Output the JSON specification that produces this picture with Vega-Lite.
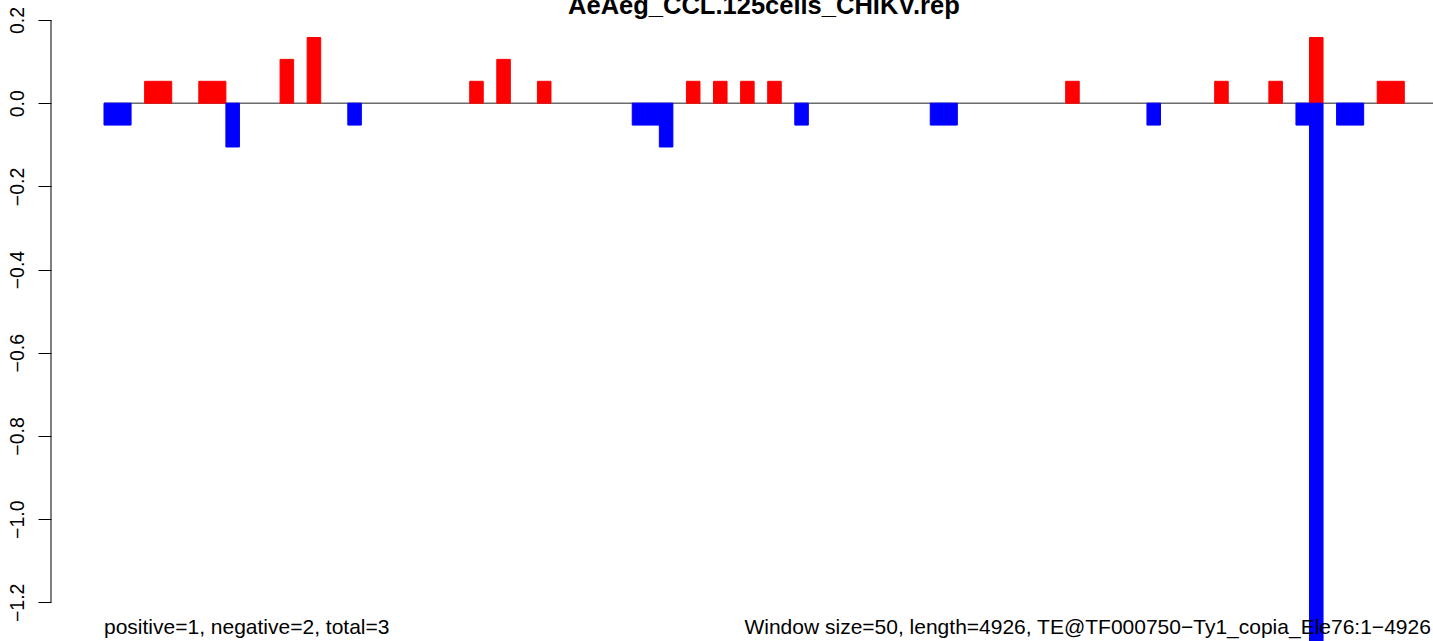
{
  "$schema": "https://vega.github.io/schema/vega-lite/v6.json",
  "width": 1382,
  "height": 621,
  "autosize": {"type": "none"},
  "padding": {"left": 51, "top": 20, "right": 0, "bottom": 0},
  "background": "white",
  "config": {"view": {"stroke": null}},
  "datasets": {
    "windows": [
      {"start": 0, "end": 50, "value": -0.0526, "dir": "neg"},
      {"start": 50, "end": 100, "value": -0.0526, "dir": "neg"},
      {"start": 150, "end": 200, "value": 0.0526, "dir": "pos"},
      {"start": 200, "end": 250, "value": 0.0526, "dir": "pos"},
      {"start": 350, "end": 400, "value": 0.0526, "dir": "pos"},
      {"start": 400, "end": 450, "value": 0.0526, "dir": "pos"},
      {"start": 450, "end": 500, "value": -0.1053, "dir": "neg"},
      {"start": 650, "end": 700, "value": 0.1053, "dir": "pos"},
      {"start": 750, "end": 800, "value": 0.1579, "dir": "pos"},
      {"start": 900, "end": 950, "value": -0.0526, "dir": "neg"},
      {"start": 1350, "end": 1400, "value": 0.0526, "dir": "pos"},
      {"start": 1450, "end": 1500, "value": 0.1053, "dir": "pos"},
      {"start": 1600, "end": 1650, "value": 0.0526, "dir": "pos"},
      {"start": 1950, "end": 2000, "value": -0.0526, "dir": "neg"},
      {"start": 2000, "end": 2050, "value": -0.0526, "dir": "neg"},
      {"start": 2050, "end": 2100, "value": -0.1053, "dir": "neg"},
      {"start": 2150, "end": 2200, "value": 0.0526, "dir": "pos"},
      {"start": 2250, "end": 2300, "value": 0.0526, "dir": "pos"},
      {"start": 2350, "end": 2400, "value": 0.0526, "dir": "pos"},
      {"start": 2450, "end": 2500, "value": 0.0526, "dir": "pos"},
      {"start": 2550, "end": 2600, "value": -0.0526, "dir": "neg"},
      {"start": 3050, "end": 3100, "value": -0.0526, "dir": "neg"},
      {"start": 3100, "end": 3150, "value": -0.0526, "dir": "neg"},
      {"start": 3550, "end": 3600, "value": 0.0526, "dir": "pos"},
      {"start": 3850, "end": 3900, "value": -0.0526, "dir": "neg"},
      {"start": 4100, "end": 4150, "value": 0.0526, "dir": "pos"},
      {"start": 4300, "end": 4350, "value": 0.0526, "dir": "pos"},
      {"start": 4400, "end": 4450, "value": -0.0526, "dir": "neg"},
      {"start": 4450, "end": 4500, "value": 0.1579, "dir": "pos"},
      {"start": 4450, "end": 4500, "value": -1.3158, "dir": "neg"},
      {"start": 4550, "end": 4600, "value": -0.0526, "dir": "neg"},
      {"start": 4600, "end": 4650, "value": -0.0526, "dir": "neg"},
      {"start": 4700, "end": 4750, "value": 0.0526, "dir": "pos"},
      {"start": 4750, "end": 4800, "value": 0.0526, "dir": "pos"}
    ],
    "single": [{}]
  },
  "layer": [
    {
      "data": {"name": "single"},
      "mark": {"type": "rule", "color": "#6b6b6b", "strokeWidth": 1.5},
      "encoding": {
        "x": {
          "datum": 0,
          "type": "quantitative",
          "scale": {"domain": [-195.6, 4905.9], "nice": false, "zero": false},
          "axis": null
        },
        "x2": {"datum": 4926},
        "y": {
          "datum": 0,
          "type": "quantitative",
          "scale": {"domain": [-1.293, 0.2], "nice": false, "zero": false},
          "axis": {
            "values": [-1.2, -1.0, -0.8, -0.6, -0.4, -0.2, 0.0, 0.2],
            "format": ".1f",
            "title": null,
            "grid": false,
            "domain": false,
            "ticks": true,
            "tickSize": 13,
            "tickWidth": 1,
            "tickColor": "black",
            "labelColor": "black",
            "labelFont": "Liberation Sans",
            "labelFontSize": 19.5,
            "labelAngle": 270,
            "labelAlign": "center",
            "labelBaseline": "alphabetic",
            "labelPadding": 15,
            "labelFlush": false,
            "labelOverlap": false,
            "labelBound": false
          }
        }
      }
    },
    {
      "data": {"name": "windows"},
      "mark": {"type": "bar", "strokeWidth": 1},
      "encoding": {
        "x": {"field": "start", "type": "quantitative"},
        "x2": {"field": "end"},
        "y": {"field": "value", "type": "quantitative"},
        "y2": {"datum": 0},
        "color": {
          "field": "dir",
          "type": "nominal",
          "scale": {"domain": ["pos", "neg"], "range": ["#ff0000", "#0000ff"]},
          "legend": null
        },
        "stroke": {
          "field": "dir",
          "type": "nominal",
          "scale": {"domain": ["pos", "neg"], "range": ["#ff0000", "#0000ff"]},
          "legend": null
        }
      }
    },
    {
      "data": {"name": "single"},
      "mark": {"type": "rule", "color": "black", "strokeWidth": 1},
      "encoding": {
        "x": {"datum": -195.6, "type": "quantitative"},
        "y": {"datum": 0.2, "type": "quantitative"},
        "y2": {"datum": -1.2}
      }
    },
    {
      "data": {"name": "single"},
      "mark": {
        "type": "text",
        "text": "AeAeg_CCL.125cells_CHIKV.rep",
        "align": "center",
        "baseline": "alphabetic",
        "font": "Liberation Sans",
        "fontSize": 25.5,
        "fontWeight": "bold",
        "color": "black"
      },
      "encoding": {
        "x": {"datum": 2436, "type": "quantitative"},
        "y": {"datum": 0.2156, "type": "quantitative"}
      }
    },
    {
      "data": {"name": "single"},
      "mark": {
        "type": "text",
        "text": "positive=1, negative=2, total=3",
        "align": "left",
        "baseline": "alphabetic",
        "font": "Liberation Sans",
        "fontSize": 21,
        "color": "black"
      },
      "encoding": {
        "x": {"datum": 0, "type": "quantitative"},
        "y": {"datum": -1.276, "type": "quantitative"}
      }
    },
    {
      "data": {"name": "single"},
      "mark": {
        "type": "text",
        "text": "Window size=50, length=4926, TE@TF000750−Ty1_copia_Ele76:1−4926",
        "align": "right",
        "baseline": "alphabetic",
        "font": "Liberation Sans",
        "fontSize": 21,
        "color": "black"
      },
      "encoding": {
        "x": {"datum": 4898, "type": "quantitative"},
        "y": {"datum": -1.276, "type": "quantitative"}
      }
    }
  ]
}
